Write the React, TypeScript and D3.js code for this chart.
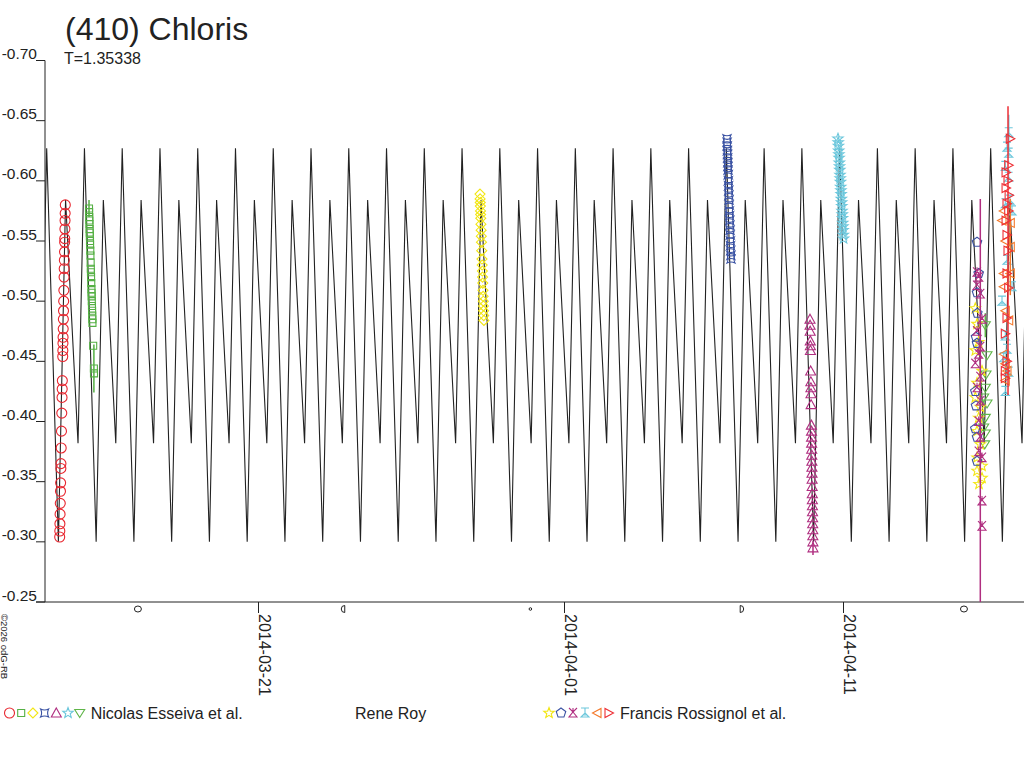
import * as d3 from 'd3'
import { useEffect, useRef } from 'react'

// [day of March 2014 (UT), reduced magnitude, error]
type Obs = [number, number, number?]

const TITLE = '(410) Chloris'
const PERIOD = 1.35338 // days
const EPOCH = 13.444 // a main maximum, day of March 2014
const FOOTER = '\u00a92026 odG-RB'

// one rotation of the model light curve
const shapePhase = [0, 0.31, 0.5, 0.83, 1]
const shapeMag = [-0.627, -0.300, -0.584, -0.382, -0.627]

const xDomainDays = [13.3835, 48.473]
const yTicks = [-0.70, -0.65, -0.60, -0.55, -0.50, -0.45, -0.40, -0.35, -0.30, -0.25]
const dateTicks = ['2014-03-21', '2014-04-01', '2014-04-11']
const moonPhases: [string, string][] = [
  ['2014-03-16T17:08', 'full'],
  ['2014-03-24T01:46', 'last'],
  ['2014-03-30T18:45', 'new'],
  ['2014-04-07T08:31', 'first'],
  ['2014-04-15T07:42', 'full']
]

// Nicolas Esseiva et al.
const neRed: Obs[] = [
  [13.910, -0.304], [13.914, -0.309], [13.918, -0.315], [13.924, -0.323], [13.931, -0.332],
  [13.938, -0.342], [13.943, -0.349], [13.952, -0.361], [13.955, -0.365], [13.964, -0.378],
  [13.974, -0.392], [13.985, -0.407], [13.994, -0.420], [14.000, -0.427], [14.005, -0.434],
  [14.019, -0.454], [14.023, -0.459], [14.027, -0.465], [14.031, -0.470], [14.036, -0.477],
  [14.042, -0.485], [14.047, -0.492], [14.053, -0.500], [14.059, -0.509], [14.067, -0.520],
  [14.072, -0.527], [14.077, -0.534], [14.083, -0.541], [14.088, -0.549], [14.091, -0.552],
  [14.097, -0.560], [14.102, -0.567], [14.106, -0.573], [14.111, -0.580]
]
const neGreen: Obs[] = [
  [14.961, -0.577, 0.007], [14.965, -0.574], [14.970, -0.570], [14.974, -0.567], [14.978, -0.564],
  [14.983, -0.560], [14.987, -0.557], [14.992, -0.554], [14.996, -0.550], [15.000, -0.547],
  [15.007, -0.542], [15.012, -0.538], [15.020, -0.532], [15.026, -0.527], [15.031, -0.524],
  [15.035, -0.520], [15.042, -0.515], [15.048, -0.510], [15.053, -0.507], [15.057, -0.504],
  [15.061, -0.500], [15.067, -0.496], [15.072, -0.492], [15.078, -0.488], [15.081, -0.485],
  [15.085, -0.482], [15.111, -0.463], [15.136, -0.444, 0.02], [15.140, -0.440]
]
const neYellow: Obs[] = [
  [28.975, -0.589], [28.979, -0.585], [28.984, -0.582], [28.988, -0.579], [28.993, -0.575],
  [28.997, -0.572], [29.002, -0.569], [29.008, -0.564], [29.015, -0.559], [29.022, -0.554],
  [29.028, -0.549], [29.037, -0.542], [29.046, -0.535], [29.053, -0.530], [29.059, -0.525],
  [29.066, -0.520], [29.074, -0.515], [29.082, -0.509], [29.088, -0.504], [29.093, -0.500],
  [29.098, -0.496], [29.104, -0.492], [29.109, -0.488], [29.115, -0.484]
]
const neBlue: Obs[] = [
  [37.828, -0.635], [37.833, -0.632], [37.837, -0.629], [37.842, -0.625], [37.847, -0.622],
  [37.852, -0.619], [37.856, -0.615], [37.861, -0.612], [37.866, -0.609], [37.872, -0.605],
  [37.878, -0.600], [37.884, -0.596], [37.889, -0.592], [37.895, -0.588], [37.901, -0.584],
  [37.907, -0.580], [37.913, -0.575], [37.919, -0.571], [37.925, -0.567], [37.931, -0.563],
  [37.937, -0.559], [37.943, -0.555], [37.949, -0.550], [37.954, -0.546], [37.960, -0.542],
  [37.966, -0.538], [37.971, -0.535]
]
const neMagenta: Obs[] = [
  [40.803, -0.485], [40.806, -0.480], [40.809, -0.475], [40.813, -0.467], [40.816, -0.463],
  [40.818, -0.459], [40.827, -0.442], [40.833, -0.433], [40.835, -0.428], [40.838, -0.423],
  [40.843, -0.414], [40.853, -0.397], [40.856, -0.392], [40.858, -0.387], [40.861, -0.382],
  [40.864, -0.377], [40.867, -0.372], [40.870, -0.367], [40.872, -0.362], [40.875, -0.357],
  [40.878, -0.352], [40.881, -0.346], [40.885, -0.340], [40.887, -0.335], [40.890, -0.330],
  [40.893, -0.325], [40.896, -0.320], [40.899, -0.315], [40.902, -0.310], [40.904, -0.305],
  [40.907, -0.300], [40.910, -0.295, 0.006]
]
const neCyan: Obs[] = [
  [41.806, -0.635], [41.814, -0.632], [41.822, -0.629], [41.830, -0.625], [41.838, -0.622],
  [41.846, -0.619], [41.854, -0.615], [41.862, -0.612], [41.870, -0.609], [41.878, -0.605],
  [41.886, -0.602], [41.894, -0.599], [41.902, -0.595], [41.910, -0.592], [41.918, -0.589],
  [41.926, -0.585], [41.934, -0.582], [41.942, -0.579], [41.950, -0.575], [41.958, -0.572],
  [41.966, -0.569], [41.974, -0.565], [41.982, -0.562], [41.990, -0.559], [41.998, -0.555],
  [42.006, -0.552]
]
const neGreen2: Obs[] = [
  [47.029, -0.420], [47.029, -0.395], [47.065, -0.381], [47.086, -0.480, 0.01], [47.086, -0.428],
  [47.086, -0.403], [47.086, -0.390], [47.111, -0.439], [47.147, -0.455], [47.147, -0.415]
]

// Francis Rossignol et al.
const frYellow: Obs[] = [
  [46.728, -0.494], [46.728, -0.459], [46.728, -0.420], [46.789, -0.481], [46.789, -0.432],
  [46.789, -0.392], [46.789, -0.370], [46.789, -0.359], [46.849, -0.466], [46.849, -0.403],
  [46.860, -0.348], [46.907, -0.412], [46.907, -0.381], [46.968, -0.442], [46.968, -0.363],
  [46.968, -0.353]
]
const frBlue: Obs[] = [
  [46.728, -0.425], [46.728, -0.394], [46.753, -0.470], [46.753, -0.413], [46.789, -0.549],
  [46.789, -0.507], [46.789, -0.465], [46.789, -0.387], [46.789, -0.367], [46.800, -0.490],
  [46.849, -0.523]
]
const frMagenta: Obs[] = [
  [46.728, -0.448], [46.789, -0.524], [46.790, -0.513], [46.790, -0.475], [46.789, -0.428],
  [46.849, -0.520], [46.849, -0.456], [46.849, -0.400], [46.849, -0.375], [46.907, -0.506],
  [46.907, -0.462], [46.907, -0.437], [46.907, -0.417, 0.168], [46.907, -0.387], [46.968, -0.485],
  [46.968, -0.370], [46.968, -0.334], [46.968, -0.313]
]
const frCyan: Obs[] = [
  [47.685, -0.500], [47.746, -0.453], [47.803, -0.612], [47.803, -0.581], [47.803, -0.471],
  [47.803, -0.425], [47.864, -0.628], [47.864, -0.534], [47.864, -0.460], [47.925, -0.640, 0.015],
  [47.925, -0.623], [47.925, -0.603], [47.925, -0.441], [47.971, -0.584], [48.043, -0.575],
  [48.043, -0.512]
]
const frOrange: Obs[] = [
  [47.685, -0.567], [47.746, -0.575], [47.746, -0.523], [47.746, -0.512], [47.746, -0.456],
  [47.803, -0.550], [47.803, -0.492], [47.803, -0.448], [47.803, -0.434], [47.864, -0.442],
  [47.925, -0.484], [47.982, -0.565], [47.982, -0.545, 0.04], [47.982, -0.523]
]
const frRed: Obs[] = [
  [47.803, -0.473], [47.803, -0.442], [47.803, -0.436], [47.830, -0.607], [47.830, -0.594],
  [47.830, -0.567], [47.864, -0.581], [47.864, -0.555], [47.864, -0.523], [47.864, -0.486],
  [47.864, -0.450], [47.900, -0.600], [47.900, -0.542, 0.12], [47.925, -0.613], [47.925, -0.575],
  [47.925, -0.511], [47.940, -0.588], [47.982, -0.635]
]

const neSeries = [
  { data: neRed, color: '#e8262f', symbol: 'circle' },
  { data: neGreen, color: '#55b044', symbol: 'square' },
  { data: neYellow, color: '#f2e614', symbol: 'diamond' },
  { data: neBlue, color: '#3a52a3', symbol: 'astroid' },
  { data: neMagenta, color: '#b02e80', symbol: 'triangle' },
  { data: neCyan, color: '#6cc7dc', symbol: 'star' },
  { data: neGreen2, color: '#5fb548', symbol: 'triangleDown' }
]
const frSeries = [
  { data: frYellow, color: '#f2e614', symbol: 'star' },
  { data: frBlue, color: '#3a52a3', symbol: 'pentagon' },
  { data: frMagenta, color: '#b02e80', symbol: 'trident' },
  { data: frCyan, color: '#6cc7dc', symbol: 'tee' },
  { data: frOrange, color: '#f4792b', symbol: 'left' },
  { data: frRed, color: '#ee2f35', symbol: 'right' }
]

const FONT = "'Liberation Sans', Arial, sans-serif"
const INK = '#222'

const dayToDate = (d: number) => new Date(Date.UTC(2014, 2, 1) + (d - 1) * 864e5)

const polyPath = (pts: number[][]) =>
  'M' + pts.map(p => `${p[0].toFixed(2)},${p[1].toFixed(2)}`).join('L') + 'Z'

const starPath = (ro: number, ri: number) =>
  polyPath(d3.range(10).map(i => {
    const a = -Math.PI / 2 + (i * Math.PI) / 5
    const r = i % 2 ? ri : ro
    return [r * Math.cos(a), r * Math.sin(a)]
  }))

const symbolPath = (kind: string) => {
  switch (kind) {
    case 'circle': return 'M5,0A5,5 0 1,1 -5,0A5,5 0 1,1 5,0Z'
    case 'square': return 'M-3.5,-3.5H3.5V3.5H-3.5Z'
    case 'diamond': return 'M0,-5L5,0L0,5L-5,0Z'
    case 'astroid': return 'M-4,-4Q0,-2 4,-4Q2,0 4,4Q0,2 -4,4Q-2,0 -4,-4Z'
    case 'triangle': return 'M0,-5L5,4H-5Z'
    case 'triangleDown': return 'M-5,-3.5H5L0,4.5Z'
    case 'star': return starPath(5.5, 2.3)
    case 'pentagon':
      return polyPath(d3.range(5).map(i => {
        const a = -Math.PI / 2 + (i * 2 * Math.PI) / 5
        return [5 * Math.cos(a), 5 * Math.sin(a)]
      }))
    case 'trident': return 'M-4,-5L0,-1L4,-5M0,-5V-1M0,-1L4,4H-4Z'
    case 'tee': return 'M-4,-5H4M0,-5V0M0,0L4,4H-4ZM-2,2H2'
    case 'left': return 'M-4.5,0L4,-4.5V4.5Z'
    default: return 'M4.5,0L-4,-4.5V4.5Z'
  }
}

const App = () => {
  const ref = useRef<SVGSVGElement>(null)

  useEffect(() => {
    if (!ref.current) return
    const svg = d3.select(ref.current)
    svg.selectAll('*').remove()

    const left = 45
    const right = 1024
    const top = 60.5
    const bottom = 602

    const x = d3.scaleUtc().domain(xDomainDays.map(dayToDate)).range([left, right])
    const y = d3.scaleLinear().domain([-0.70, -0.25]).range([top, bottom])

    svg.append('rect').attr('width', 1024).attr('height', 768).attr('fill', '#fff')

    svg.append('defs').append('clipPath').attr('id', 'plot-clip')
      .append('rect').attr('x', left).attr('y', top - 1).attr('width', right - left).attr('height', bottom - top + 1)

    // Title
    svg.append('text')
      .attr('x', 65).attr('y', 40)
      .style('font-family', FONT).style('font-size', '32px').style('fill', INK)
      .text(TITLE)
    svg.append('text')
      .attr('x', 64).attr('y', 64)
      .style('font-family', FONT).style('font-size', '16px').style('fill', INK)
      .text(`T=${PERIOD}`)

    // Y axis (plain hyphen minus, as in the original)
    svg.append('line')
      .attr('x1', left).attr('x2', left).attr('y1', top).attr('y2', bottom)
      .attr('stroke', INK)
    const yAxis = svg.append('g')
    yTicks.forEach(t => {
      yAxis.append('line')
        .attr('x1', 36).attr('x2', left).attr('y1', y(t)).attr('y2', y(t))
        .attr('stroke', INK)
      yAxis.append('text')
        .attr('x', 37).attr('y', y(t) - 1.5)
        .attr('text-anchor', 'end')
        .style('font-family', FONT).style('font-size', '15.5px').style('fill', INK)
        .text(t.toFixed(2))
    })

    // X axis
    svg.append('line')
      .attr('x1', 36).attr('x2', right).attr('y1', bottom).attr('y2', bottom)
      .attr('stroke', INK)
    const parseDay = d3.utcParse('%Y-%m-%d')
    const fmtDay = d3.utcFormat('%Y-%m-%d')
    dateTicks.forEach(s => {
      const d = parseDay(s) as Date
      const px = Math.round(x(d)) + 0.5
      svg.append('line')
        .attr('x1', px).attr('x2', px).attr('y1', bottom).attr('y2', bottom + 11)
        .attr('stroke', INK)
      svg.append('text')
        .attr('transform', `translate(${px + 0.5},${bottom + 12}) rotate(90)`)
        .style('font-family', FONT).style('font-size', '16px').style('fill', INK)
        .text(fmtDay(d))
    })

    // Moon phases
    const parseMoon = d3.utcParse('%Y-%m-%dT%H:%M')
    const moonY = 609
    moonPhases.forEach(([s, phase]) => {
      const mx = x(parseMoon(s) as Date)
      const path = phase === 'full'
        ? 'M3.5,0A3.5,3 0 1,1 -3.5,0A3.5,3 0 1,1 3.5,0Z'
        : phase === 'new'
          ? 'M1.3,0A1.3,1.3 0 1,1 -1.3,0A1.3,1.3 0 1,1 1.3,0Z'
          : phase === 'last'
            ? 'M1.5,-3.5A3.5,3.5 0 0,0 1.5,3.5Z'
            : 'M-1.5,-3.5A3.5,3.5 0 0,1 -1.5,3.5Z'
      svg.append('path')
        .attr('transform', `translate(${mx},${moonY})`)
        .attr('d', path)
        .attr('fill', 'none').attr('stroke', INK).attr('stroke-width', 1)
    })

    const plot = svg.append('g').attr('clip-path', 'url(#plot-clip)')

    // Model light curve
    const modelPts: [number, number][] = []
    for (let k = -1; k < 27; k++) {
      shapePhase.forEach((p, i) => {
        if (i === 0 && k > -1) return
        modelPts.push([EPOCH + (k + p) * PERIOD, shapeMag[i]])
      })
    }
    const line = d3.line<[number, number]>()
      .x(d => x(dayToDate(d[0])))
      .y(d => y(d[1]))
    plot.append('path')
      .datum(modelPts)
      .attr('d', line)
      .attr('fill', 'none')
      .attr('stroke', INK)
      .attr('stroke-width', 1.1)

    // Observations
    const drawSeries = (s: { data: Obs[]; color: string; symbol: string }) => {
      const g = plot.append('g')
      s.data.filter(d => d[2]).forEach(d => {
        const px = x(dayToDate(d[0]))
        g.append('line')
          .attr('x1', px).attr('x2', px)
          .attr('y1', y(d[1] - (d[2] as number))).attr('y2', y(d[1] + (d[2] as number)))
          .attr('stroke', s.color).attr('stroke-width', 1.5)
      })
      g.selectAll('path')
        .data(s.data)
        .enter()
        .append('path')
        .attr('transform', d => `translate(${x(dayToDate(d[0]))},${y(d[1])})`)
        .attr('d', symbolPath(s.symbol))
        .attr('fill', 'none')
        .attr('stroke', s.color)
        .attr('stroke-width', 1.1)
    }
    neSeries.forEach(drawSeries)
    frSeries.forEach(drawSeries)

    // Legend
    const legendY = 713
    const legend = svg.append('g')
    const legendGroup = (series: { color: string; symbol: string }[], x0: number, step: number, label: string) => {
      series.forEach((s, i) => {
        legend.append('path')
          .attr('transform', `translate(${x0 + i * step},${legendY})`)
          .attr('d', symbolPath(s.symbol))
          .attr('fill', 'none').attr('stroke', s.color).attr('stroke-width', 1.1)
      })
      legend.append('text')
        .attr('x', series.length ? x0 + (series.length - 1) * step + 11 : x0)
        .attr('y', legendY + 6)
        .style('font-family', FONT).style('font-size', '16px').style('fill', INK)
        .text(label)
    }
    legendGroup(neSeries, 9.5, 11.7, 'Nicolas Esseiva et al.')
    legendGroup([], 355, 0, 'Rene Roy')
    legendGroup(frSeries, 549, 12, 'Francis Rossignol et al.')

    // Footer
    svg.append('text')
      .attr('transform', 'translate(1,614) rotate(90)')
      .style('font-family', FONT).style('font-size', '9.5px').style('fill', INK)
      .text(FOOTER)
  }, [])

  return (
    <div style={{ position: 'absolute', left: 0, top: 0 }}>
      <svg ref={ref} width={1024} height={768} style={{ display: 'block' }} />
    </div>
  )
}

export default App
